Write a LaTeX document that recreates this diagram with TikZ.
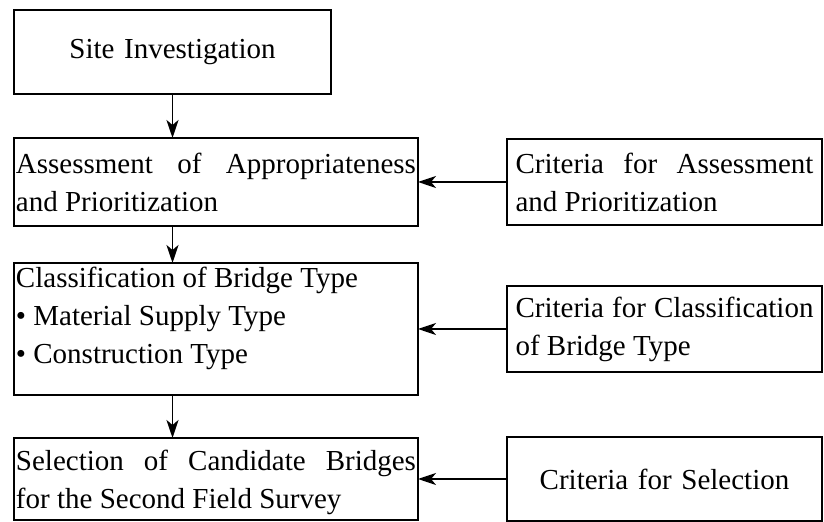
\documentclass[tikz,border=0pt]{standalone}
\usepackage{fontspec}
\setmainfont{Liberation Serif}
\usetikzlibrary{positioning, arrows.meta}

\begin{document}
\begin{tikzpicture}[node distance=22pt, line width=0.9pt]
	\tikzset{arrow/.style={-{Stealth[length=9pt, width=6pt, inset=2.5pt]}}}
	\tikzset{StepBox/.style={draw, rectangle, outer sep=0pt, inner xsep=1pt, inner ysep=0pt, text width=200pt, align=justify, font=\fontsize{14.5}{19}\selectfont}}
	\tikzset{CritBox/.style={draw, rectangle, outer sep=0pt, inner xsep=4.25pt, inner ysep=0pt, text width=149pt, align=justify, minimum height=43pt, font=\fontsize{14.5}{19}\selectfont}}

	\useasboundingbox (0,0) rectangle (412pt,-261pt);

	% Steps
	\node (site) [StepBox, text width=156.5pt, align=center, minimum height=42pt, anchor=north west] at (7pt,-5pt) {Site Investigation};
	\node (assess) [StepBox, minimum height=44pt, below right=22pt and 0pt of site.south west] {Assessment of Appropriateness\linebreak and Prioritization};
	\node (classify) [StepBox, minimum height=66pt, below right=18.5pt and 0pt of assess.south west] {Classification of Bridge Type\\ \textbullet{} Material Supply Type\\ \textbullet{} Construction Type\rule[-14pt]{0pt}{14pt}};
	\node (select) [StepBox, minimum height=41pt, below right=21.5pt and 0pt of classify.south west] {\rule{0pt}{14pt}Selection of Candidate Bridges\linebreak for the Second Field Survey};

	% Criteria
	\node (crit1) [CritBox, right=44.5pt of assess] {Criteria for Assessment\linebreak and Prioritization};
	\node (crit2) [CritBox, right=44.5pt of classify] {Criteria for Classification of Bridge Type};
	\node (crit3) [CritBox, align=center, minimum height=42pt, right=44.5pt of select] {Criteria for Selection};

	% Flow
	\draw [arrow] (site.south) -- (site.south |- assess.north);
	\draw [arrow] (site.south |- assess.south) -- (site.south |- classify.north);
	\draw [arrow] (site.south |- classify.south) -- (site.south |- select.north);

	% Criteria inputs
	\draw [arrow] (crit1) -- (assess);
	\draw [arrow] (crit2) -- (classify);
	\draw [arrow] (crit3) -- (select);

\end{tikzpicture}
\end{document}
